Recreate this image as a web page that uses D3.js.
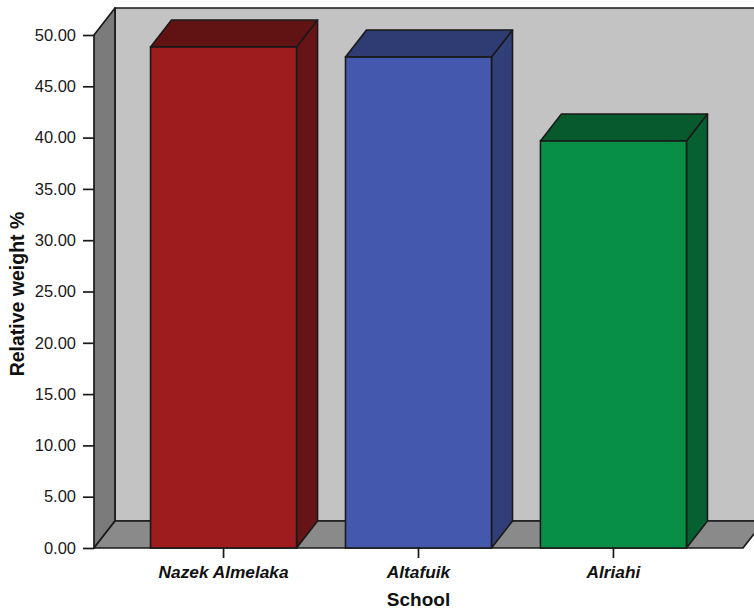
<!DOCTYPE html>
<html>
<head>
<meta charset="utf-8">
<script src="https://cdn.jsdelivr.net/npm/d3@7"></script>
<style>
  html, body { margin: 0; padding: 0; background: #ffffff; }
  svg { display: block; font-family: "Liberation Sans", Arial, sans-serif; }
</style>
</head>
<body>
<svg id="chart" width="754" height="610"></svg>
<script>
// Relative weight (%) by school
const schools = ["Nazek Almelaka", "Altafuik", "Alriahi"];
const relativeWeight = [48.83, 47.85, 39.67];
const yTicks = [0, 5, 10, 15, 20, 25, 30, 35, 40, 45, 50];

// face colours per bar: front, top, side
const frontColors = ["#9e1b1e", "#4459ad", "#078f45"];
const topColors = ["#611213", "#2f3b73", "#065a2d"];
const sideColors = ["#661416", "#313f78", "#066032"];

const svg = d3.select("#chart");
const W = 754, H = 610;

// depth offset of the 3-D box
const dx = 21, dy = -27;

const x = d3.scaleBand()
  .domain(schools)
  .range([94, 743])
  .paddingInner(0.251)
  .paddingOuter(0.29);

const y = d3.scaleLinear().domain([0, 50]).range([548, 35]);

const line = d3.line();
const stroke = "#1a1a1a";

// clip so the box can run off the right edge
svg.append("defs").append("clipPath").attr("id", "frame")
  .append("rect").attr("x", 0).attr("y", 0).attr("width", W).attr("height", H);
const g = svg.append("g").attr("clip-path", "url(#frame)");

const x0 = x.range()[0], x1 = x.range()[1];
const yb = y(0), yt = y(50);

// back wall
g.append("path")
  .attr("d", line([[x0 + dx, yt + dy], [x1 + dx + 40, yt + dy], [x1 + dx + 40, yb + dy], [x0 + dx, yb + dy]]) + "Z")
  .attr("fill", "#c3c3c3").attr("stroke", stroke).attr("stroke-width", 1.7);

// left wall
g.append("path")
  .attr("d", line([[x0, yb], [x0, yt], [x0 + dx, yt + dy], [x0 + dx, yb + dy]]) + "Z")
  .attr("fill", "#7b7b7b").attr("stroke", stroke).attr("stroke-width", 1.7).attr("stroke-linejoin", "round");

// floor
g.append("path")
  .attr("d", line([[x0, yb], [x1, yb], [x1 + dx, yb + dy], [x0 + dx, yb + dy]]) + "Z")
  .attr("fill", "#8a8a8a").attr("stroke", stroke).attr("stroke-width", 1.7).attr("stroke-linejoin", "round");

// bars
const bars = g.selectAll("g.bar")
  .data(schools.map((s, i) => ({ s, v: relativeWeight[i], i })))
  .join("g").attr("class", "bar");

bars.append("path") // side face
  .attr("d", d => {
    const xr = x(d.s) + x.bandwidth();
    return line([[xr, yb], [xr, y(d.v)], [xr + dx, y(d.v) + dy], [xr + dx, yb + dy]]) + "Z";
  })
  .attr("fill", d => sideColors[d.i]).attr("stroke", stroke).attr("stroke-width", 1.6).attr("stroke-linejoin", "round");

bars.append("path") // top face
  .attr("d", d => {
    const xl = x(d.s), xr = xl + x.bandwidth(), yv = y(d.v);
    return line([[xl, yv], [xr, yv], [xr + dx, yv + dy], [xl + dx, yv + dy]]) + "Z";
  })
  .attr("fill", d => topColors[d.i]).attr("stroke", stroke).attr("stroke-width", 1.6).attr("stroke-linejoin", "round");

bars.append("rect") // front face
  .attr("x", d => x(d.s))
  .attr("y", d => y(d.v))
  .attr("width", x.bandwidth())
  .attr("height", d => yb - y(d.v))
  .attr("fill", d => frontColors[d.i]).attr("stroke", stroke).attr("stroke-width", 1.6);

// y axis
const yAxis = svg.append("g")
  .attr("transform", `translate(${x0},0)`)
  .call(d3.axisLeft(y).tickValues(yTicks).tickFormat(d3.format(".2f")).tickSize(11).tickPadding(7));
yAxis.select(".domain").remove();
yAxis.selectAll(".tick line").attr("stroke", stroke).attr("stroke-width", 1.7);
yAxis.selectAll(".tick text")
  .attr("fill", "#1a1a1a").attr("font-size", 16.5)
  .attr("font-family", "'Liberation Sans', Arial, sans-serif");

// x axis
const xAxis = svg.append("g")
  .attr("transform", `translate(0,${yb})`)
  .call(d3.axisBottom(x).tickSize(10).tickPadding(8));
xAxis.select(".domain").remove();
xAxis.selectAll(".tick line").attr("stroke", stroke).attr("stroke-width", 1.7);
xAxis.selectAll(".tick text")
  .attr("fill", "#111").attr("font-size", 17.3)
  .attr("font-weight", "bold").attr("font-style", "italic")
  .attr("font-family", "'Liberation Sans', Arial, sans-serif");

// axis titles
svg.append("text")
  .attr("x", (x0 + x1) / 2 + 0).attr("y", 606)
  .attr("text-anchor", "middle")
  .attr("font-size", 19).attr("font-weight", "bold").attr("fill", "#111")
  .text("School");

svg.append("text")
  .attr("transform", "translate(24,294) rotate(-90)")
  .attr("text-anchor", "middle")
  .attr("font-size", 19.5).attr("font-weight", "bold").attr("fill", "#111")
  .text("Relative weight %");
</script>
</body>
</html>
